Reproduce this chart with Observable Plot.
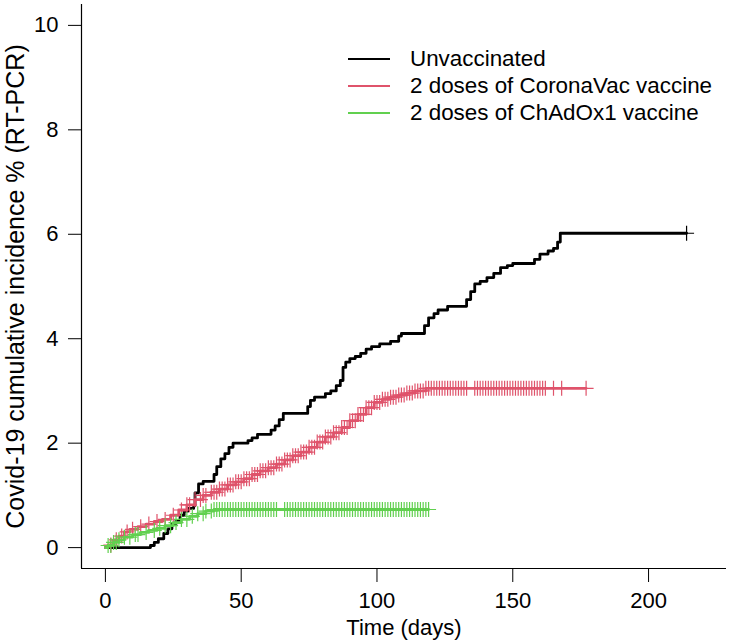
<!DOCTYPE html>
<html><head><meta charset="utf-8">
<script src="https://cdn.jsdelivr.net/npm/d3@7"></script>
<script src="https://cdn.jsdelivr.net/npm/@observablehq/plot@0.6"></script>
<style>
body{margin:0;background:#fff;}
#wrap{position:relative;width:731px;height:643px;font-family:"Liberation Sans",Arial,sans-serif;}
#legend{position:absolute;left:348px;top:45px;font-size:22.4px;line-height:27px;color:#000;}
.item{display:flex;align-items:center;height:27px;white-space:nowrap;}
.sw{width:42px;height:0;border-top:2.6px solid;margin-right:20px;}
</style></head><body><div id="wrap"><div id="legend"></div></div>
<script>
// ---- data ----
const seriesNames = ["Unvaccinated", "2 doses of CoronaVac vaccine", "2 doses of ChAdOx1 vaccine"];
const seriesColors = ["#000000", "#DF536B", "#61D04F"];

const blackDay = [0,16.6,18,19.5,21.5,23,24.5,26,27.5,29,30.5,32.5,33,34.3,36,40,41,42.5,44,45.5,47,52.5,54,56,61,62.5,64,65.5,74.5,75.5,77,81,83,85,86.5,87.5,88.5,90,92,94,96,98,101,105,108,109,117.5,119,121,122.5,126,133,134.5,136,138,140.5,143,145.5,148,150,158,160,163,165,166.5,167.5,214];
const blackPct = [0,0.04,0.1,0.17,0.27,0.36,0.45,0.52,0.62,0.7,0.75,0.8,1.05,1.22,1.27,1.4,1.55,1.7,1.8,1.92,2.0,2.05,2.1,2.17,2.25,2.33,2.45,2.57,2.7,2.82,2.88,2.95,3.0,3.1,3.2,3.45,3.55,3.62,3.66,3.72,3.8,3.85,3.9,3.95,4.05,4.1,4.25,4.4,4.48,4.55,4.62,4.75,4.9,5.05,5.1,5.17,5.25,5.36,5.4,5.44,5.52,5.62,5.68,5.73,5.85,6.02,6.02];
const blackCensor = [214];

const redDay = [0,1,3,5,7,9,12,15,18,21,24,27,30,33,36,39,42,45,48,51,54,57,60,63,66,69,72,75,78,81,84,87,90,93,96,99,102,105,108,111,114,118,177];
const redPct = [0,0.05,0.15,0.22,0.3,0.35,0.4,0.45,0.5,0.54,0.62,0.72,0.82,0.92,1.0,1.06,1.12,1.2,1.26,1.32,1.4,1.47,1.53,1.6,1.68,1.76,1.83,1.92,2.02,2.12,2.2,2.3,2.43,2.55,2.68,2.78,2.84,2.88,2.92,2.96,3.0,3.05,3.05];
const redCensor = [2,4,6,8,10,13,16,19,22,25,28,30,31,33,35,36,37,39,40,41,42,43,44,45,46,47,48,49,50,51,52,53,54,55,56,57,58,59,60,61,62,63,64,65,66,67,68,69,70,71,72,73,74,75,76,77,78,79,80,81,82,83,84,85,86,87,88,89,90,91,92,93,94,95,96,97,98,99,100,101,102,103,104,105,106,107,108,109,110,111,112,113,114,115,116,117,118,119,120,121,122,123,124,125,126,127,128,129,130,131,132,133,136,137,138,139,140,141,142,143,144,145,146,147,148,149,150,151,152,153,154,155,156,157,158,159,160,161,162,165,168,177];

const greenDay = [0,1,3,5,7,10,13,16,19,22,25,28,31,34,37,40,119];
const greenPct = [0,0.04,0.1,0.15,0.2,0.25,0.29,0.33,0.37,0.42,0.48,0.54,0.6,0.65,0.7,0.73,0.73];
const greenCensor = [1,2,3,4,5,7,9,11,12,15,18,20,22,24,26,28,30,32,34,36,37,39,40,41,42,43,44,45,46,47,48,49,50,51,52,53,54,55,56,57,58,59,60,61,62,63,66,67,68,69,70,71,72,73,74,75,76,77,78,79,80,81,82,83,84,85,86,87,88,89,90,91,92,93,94,95,96,97,98,99,100,101,102,103,104,105,106,107,108,109,110,111,112,113,114,115,116,117,118,119];

const xTicks = [0, 50, 100, 150, 200];
const yTicks = [0, 2, 4, 6, 8, 10];
const xDomain = [-8.8, 228.7];
const yDomain = [-0.4, 10.4];
const xTitle = "Time (days)";
const yTitle = "Covid-19 cumulative incidence % (RT-PCR)";

// ---- build ----
const days = [blackDay, redDay, greenDay];
const pcts = [blackPct, redPct, greenPct];
const censors = [blackCensor, redCensor, greenCensor];
const curves = days.map((ds, i) => ds.map((d, j) => ({day: d, pct: pcts[i][j]})));
function stepAt(curve, t) {
  let v = 0;
  for (const p of curve) { if (p.day <= t) v = p.pct; else break; }
  return v;
}
const marks = censors.map((cs, i) => cs.map(d => ({day: d, pct: stepAt(curves[i], d)})));

const plusSym = {
  draw(ctx, size) {
    const r = Math.sqrt(size / Math.PI);
    ctx.moveTo(-r, 0); ctx.lineTo(r, 0);
    ctx.moveTo(0, -r); ctx.lineTo(0, r);
  }
};

const seriesMarks = [];
curves.forEach((c, i) => {
  seriesMarks.push(Plot.line(c, {x: "day", y: "pct", curve: "step-after", stroke: seriesColors[i], strokeWidth: 2.8}));
  seriesMarks.push(Plot.dot(marks[i], {x: "day", y: "pct", symbol: plusSym, r: 7.5, stroke: seriesColors[i], fill: "none", strokeWidth: 1.2}));
});

const chart = Plot.plot({
  width: 731, height: 643,
  marginLeft: 81, marginRight: 5, marginTop: 4, marginBottom: 75,
  style: {fontFamily: "Liberation Sans, Arial, sans-serif", fontSize: "22px", color: "#000", background: "#fff", overflow: "visible"},
  x: {domain: xDomain},
  y: {domain: yDomain},
  marks: [
    Plot.ruleX([xDomain[0]], {stroke: "#000", strokeWidth: 1.2}),
    Plot.ruleY([yDomain[0]], {stroke: "#000", strokeWidth: 1.2}),
    Plot.axisX(xTicks, {tickSize: 14, tickPadding: 10, label: null, fill: "#000", tickFormat: d3.format("d")}),
    Plot.axisY(yTicks, {tickSize: 13, tickPadding: 10, label: null, fill: "#000", tickFormat: d3.format("d")}),
    Plot.text([xTitle], {frameAnchor: "bottom", dy: 66, text: d => d, fill: "#000"}),
    Plot.text([yTitle], {frameAnchor: "left", dx: -66, rotate: -90, textAnchor: "middle", text: d => d, fill: "#000", fontSize: 25}),
    ...seriesMarks
  ]
});
document.getElementById("wrap").prepend(chart);

const legend = document.getElementById("legend");
seriesNames.forEach((n, i) => {
  const it = document.createElement("div");
  it.className = "item";
  const sw = document.createElement("span");
  sw.className = "sw";
  sw.style.borderTopColor = seriesColors[i];
  const tx = document.createElement("span");
  tx.textContent = n;
  it.append(sw, tx);
  legend.append(it);
});
</script></body></html>
